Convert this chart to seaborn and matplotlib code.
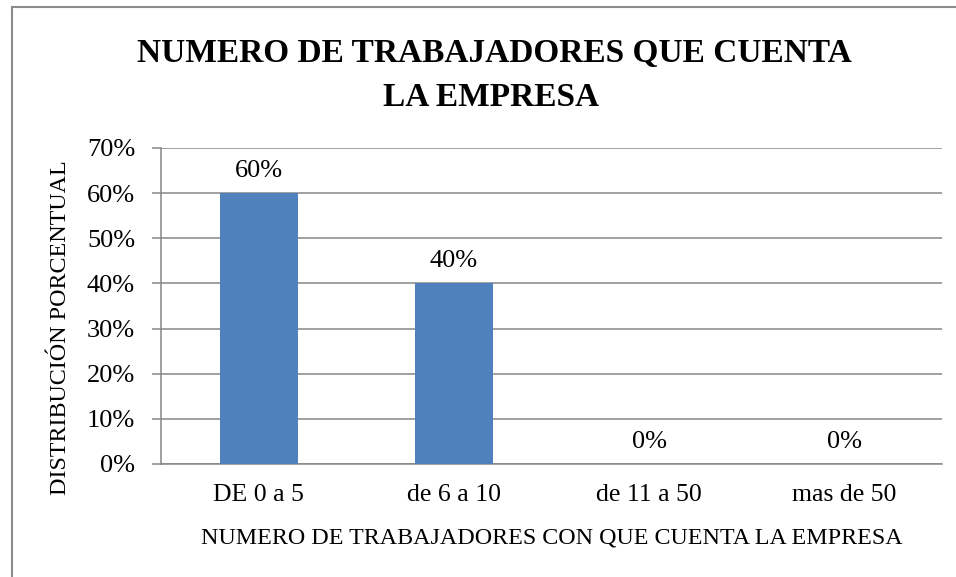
import pandas as pd
import seaborn as sns
import matplotlib.pyplot as plt
from matplotlib.ticker import PercentFormatter
from matplotlib.patches import Rectangle

# datos del grafico
categorias = ['DE 0 a 5', 'de 6 a 10', 'de 11 a 50', 'mas de 50']
porcentajes = [0.60, 0.40, 0.0, 0.0]
titulo = ['NUMERO DE TRABAJADORES QUE CUENTA', 'LA EMPRESA']
etiqueta_x = 'NUMERO DE TRABAJADORES CON QUE CUENTA LA EMPRESA'
etiqueta_y = 'DISTRIBUCIÓN PORCENTUAL'

data = pd.DataFrame({'rango': categorias, 'valor': porcentajes})

sns.set_style('white')
plt.rcParams['font.family'] = ['Liberation Serif', 'DejaVu Serif']
plt.rcParams['text.color'] = 'black'
plt.rcParams['xtick.color'] = 'black'
plt.rcParams['ytick.color'] = 'black'
plt.rcParams['axes.labelcolor'] = 'black'

gris = '#868686'
azul = '#4F81BD'

fig = plt.figure(figsize=(9.56, 5.77), dpi=100)
ax = fig.add_axes([161 / 956, 1 - 464 / 577, 781 / 956, 316 / 577])

sns.barplot(x='rango', y='valor', data=data, color=azul, saturation=1,
            width=0.4, linewidth=0, edgecolor='none', ax=ax, zorder=3)

# etiquetas de datos sobre las barras
ax.bar_label(ax.containers[0], labels=[f'{v:.0%}' for v in porcentajes],
             padding=8, fontsize=19, color='black')

# ejes y cuadricula
ax.set_ylim(0, 0.70)
ax.set_yticks([i / 10 for i in range(8)])
ax.yaxis.set_major_formatter(PercentFormatter(1.0, decimals=0))
ax.set_xlim(-0.5, len(categorias) - 0.5)
ax.grid(axis='y', color=gris, linewidth=1.1, zorder=0)
ax.set_axisbelow(True)
for lado in ['top', 'right']:
    ax.spines[lado].set_visible(False)
for lado in ['left', 'bottom']:
    ax.spines[lado].set_color(gris)
    ax.spines[lado].set_linewidth(1.1)

ax.tick_params(axis='y', which='major', left=True, length=6.7, width=1.1,
               color=gris, labelcolor='black', pad=12, labelsize=19)
ax.tick_params(axis='x', bottom=False, pad=11, labelsize=18.5,
               labelcolor='black')

ax.set_xlabel(etiqueta_x, fontsize=17.3)
ax.xaxis.set_label_coords(0.5, -0.234)
ax.xaxis.label.set_va('center')
ax.set_ylabel(etiqueta_y, fontsize=17.3)
ax.yaxis.set_label_coords(-0.129, 0.43)
ax.yaxis.label.set_va('center')

# titulo en dos lineas
fig.text(494 / 956, 1 - 62 / 577, titulo[0], ha='center', va='baseline',
         fontsize=24, fontweight='bold')
fig.text(491 / 956, 1 - 106 / 577, titulo[1], ha='center', va='baseline',
         fontsize=24, fontweight='bold')

# borde del area del grafico
fig.patches.append(Rectangle((11.5 / 956, -0.05), 1.0, 1 - 6.5 / 577 + 0.05,
                             transform=fig.transFigure, fill=False,
                             edgecolor='#8c8c8c', linewidth=1.5))

fig.savefig('out.png', dpi=100)
